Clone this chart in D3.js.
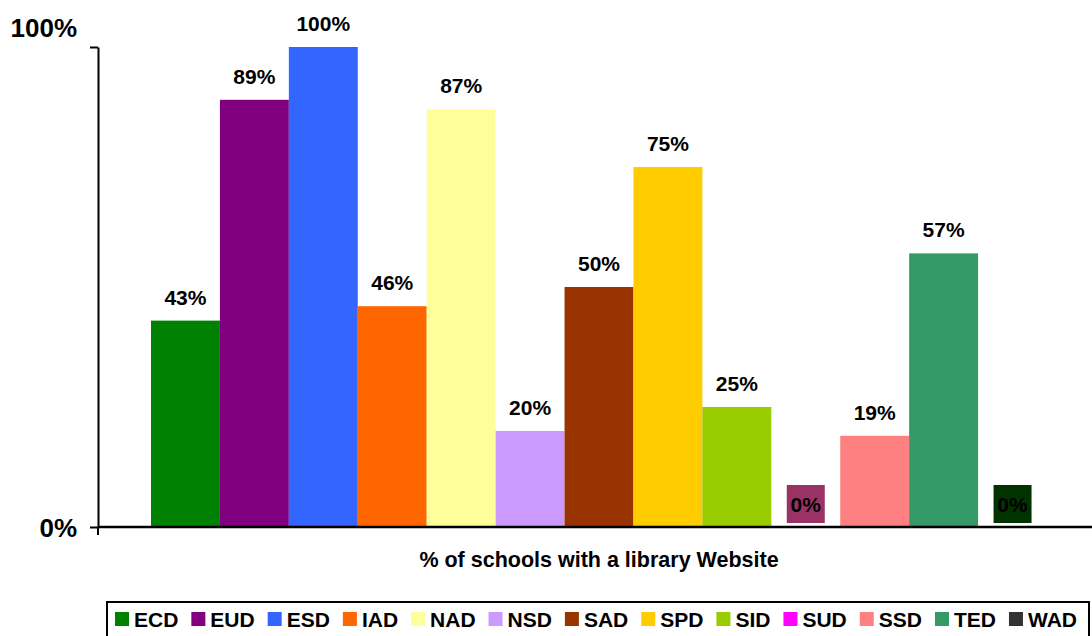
<!DOCTYPE html>
<html>
<head>
<meta charset="utf-8">
<script src="https://cdn.jsdelivr.net/npm/d3@7"></script>
<style>
  body { margin: 0; background: #fff; }
  svg { display: block; font-family: 'Liberation Sans', Arial, sans-serif; font-weight: bold; }
</style>
</head>
<body>
<div id="graph"></div>
<script>
// chart data
var districts = ['ECD', 'EUD', 'ESD', 'IAD', 'NAD', 'NSD', 'SAD', 'SPD', 'SID', 'SUD', 'SSD', 'TED', 'WAD'];
var percents = [43, 89, 100, 46, 87, 20, 50, 75, 25, 0, 19, 57, 0];
var barColors = ['#008000', '#800080', '#3366ff', '#ff6600', '#ffff99', '#cc99ff', '#993300', '#ffcc00', '#99cc00', '#ff00ff', '#ff8080', '#339966', '#333333'];
// zero bars get a filled label box in the original
var labelBoxColors = [null, null, null, null, null, null, null, null, null, '#993366', null, null, '#003300'];
var yTicks = [0, 100];
var axisTitle = '% of schools with a library Website';

var w = 1092, h = 636;

var svg = d3.select('#graph').append('svg')
  .attr('width', w)
  .attr('height', h);

var x = d3.scaleBand().domain(districts).range([151, 1047]).padding(0);
var y = d3.scaleLinear().domain([0, 100]).range([527, 47]);

// bars
svg.selectAll('.bar')
  .data(districts)
  .enter()
  .append('rect')
  .attr('class', 'bar')
  .attr('x', function(d) { return x(d); })
  .attr('width', x.bandwidth())
  .attr('y', function(d, i) { return y(percents[i]); })
  .attr('height', function(d, i) { return y(0) - y(percents[i]); })
  .attr('fill', function(d, i) { return barColors[i]; });

// label boxes for the zero values
svg.selectAll('.lblbox')
  .data(districts.filter(function(d, i) { return labelBoxColors[i]; }))
  .enter()
  .append('rect')
  .attr('x', function(d) { return x(d) + x.bandwidth() / 2 - 19; })
  .attr('y', y(0) - 42)
  .attr('width', 38)
  .attr('height', 38)
  .attr('fill', function(d) { return labelBoxColors[districts.indexOf(d)]; });

// value labels
svg.selectAll('.lbl')
  .data(districts)
  .enter()
  .append('text')
  .attr('class', 'lbl')
  .attr('x', function(d) { return x(d) + x.bandwidth() / 2; })
  .attr('y', function(d, i) {
    return percents[i] === 0 ? y(0) - 15 : y(percents[i]) - 16;
  })
  .attr('text-anchor', 'middle')
  .attr('font-size', '21px')
  .attr('fill', '#000')
  .text(function(d, i) { return percents[i] + '%'; });

// y axis
var yAxis = d3.axisLeft(y)
  .tickValues(yTicks)
  .tickSize(8)
  .tickSizeOuter(0)
  .tickPadding(13)
  .tickFormat(function(d) { return d + '%'; });

var gy = svg.append('g')
  .attr('transform', 'translate(98,0)')
  .call(yAxis);
gy.select('.domain').attr('stroke', '#000').attr('stroke-width', 2);
gy.selectAll('.tick line').attr('stroke', '#000').attr('stroke-width', 2);
gy.selectAll('.tick text')
  .attr('font-size', '26px')
  .attr('font-family', "'Liberation Sans', Arial, sans-serif")
  .attr('font-weight', 'bold')
  .attr('fill', '#000')
  .attr('dy', function(d) { return d === 100 ? '-0.4em' : '0.36em'; });

// little cross below the origin
gy.append('line')
  .attr('x1', 0).attr('x2', 0)
  .attr('y1', y(0)).attr('y2', y(0) + 8)
  .attr('stroke', '#000').attr('stroke-width', 2);

// x axis line
svg.append('line')
  .attr('x1', 98).attr('x2', w)
  .attr('y1', y(0)).attr('y2', y(0))
  .attr('stroke', '#000')
  .attr('stroke-width', 2.5);

svg.append('text')
  .attr('x', (151 + 1047) / 2)
  .attr('y', 567)
  .attr('text-anchor', 'middle')
  .attr('font-size', '21.5px')
  .text(axisTitle);

// legend
var legend = svg.append('g').attr('id', 'legend');

legend.append('rect')
  .attr('x', 107)
  .attr('y', 602)
  .attr('width', 982)
  .attr('height', 50)
  .attr('fill', '#fff')
  .attr('stroke', '#000')
  .attr('stroke-width', 2);

var lx = 115;
districts.forEach(function(d, i) {
  legend.append('rect')
    .attr('x', lx)
    .attr('y', 612)
    .attr('width', 14)
    .attr('height', 14)
    .attr('fill', barColors[i]);
  var t = legend.append('text')
    .attr('x', lx + 19)
    .attr('y', 627)
    .attr('font-size', '21px')
    .text(d);
  lx += 19 + t.node().getComputedTextLength() + 13;
});
</script>
</body>
</html>
